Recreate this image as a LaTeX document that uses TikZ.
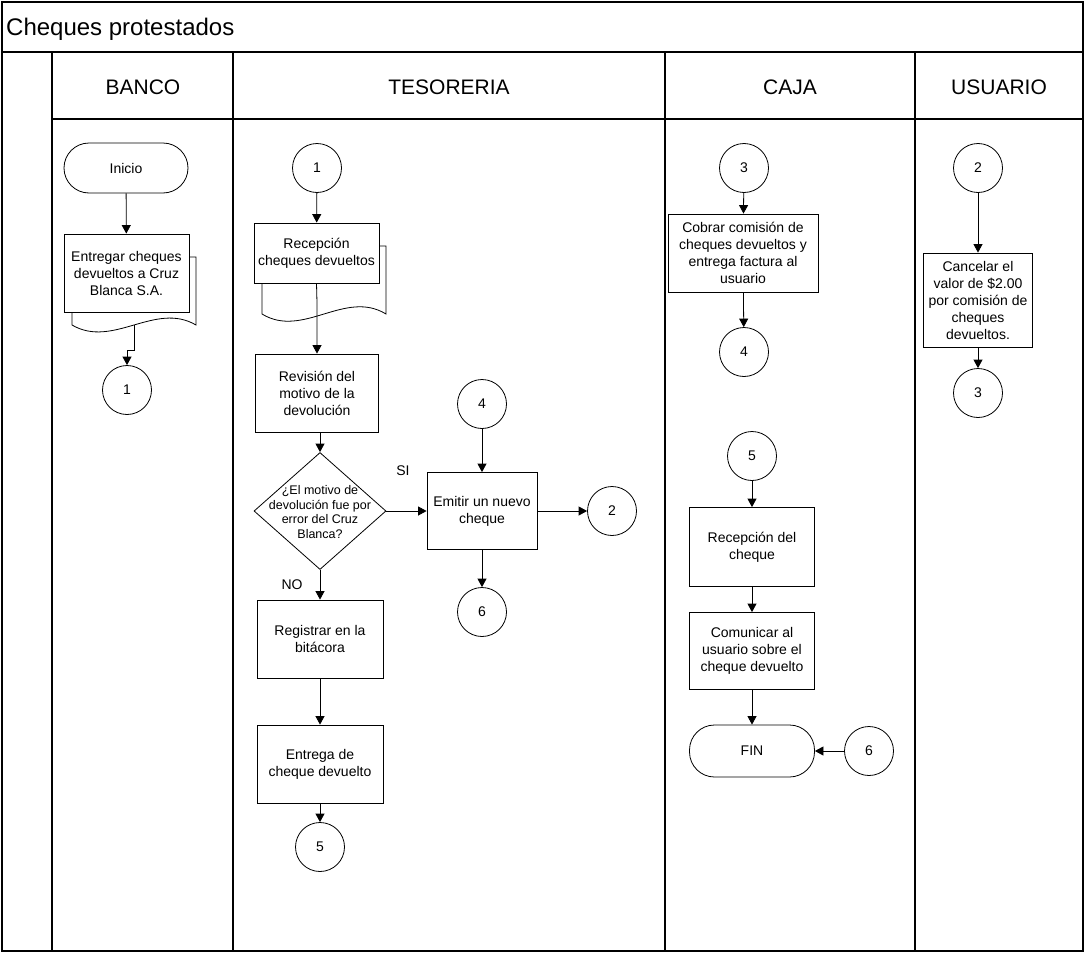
\documentclass[tikz,border=0pt]{standalone}
\usepackage{fontspec}
\setmainfont{Liberation Sans}
\usetikzlibrary{arrows.meta,shapes.geometric}

\newcommand{\bodyfont}{\fontsize{14}{17}\selectfont}
\newcommand{\decfont}{\fontsize{12.5}{14.6}\selectfont}

\tikzset{
  frame/.style={line width=1.1pt},
  proc/.style={draw, fill=white, line width=0.8pt, inner sep=0pt, align=center, font=\bodyfont},
  conn/.style={draw, fill=white, circle, line width=0.8pt, minimum size=49pt, inner sep=0pt, font=\bodyfont},
  term/.style={draw, fill=white, line width=0.8pt, rounded corners=25pt, inner sep=0pt, font=\bodyfont},
  flow/.style={draw, line width=0.8pt, -{Triangle[length=8.5pt,width=9pt]}},
  backdoc/.style={draw, fill=white, line width=0.8pt},
  lane/.style={font=\fontsize{21}{25}\selectfont, anchor=base, inner sep=0pt},
  lbl/.style={font=\bodyfont, inner sep=0pt}
}

\begin{document}
\begin{tikzpicture}[x=1pt, y=-1pt]
\useasboundingbox (0,0) rectangle (1085,953);

% swimlane frame
\draw[frame] (2,2) rectangle (1083,951);
\draw[frame] (2,52) -- (1083,52);
\draw[frame] (52,119) -- (1083,119);
\draw[frame] (52,52) -- (52,951);
\draw[frame] (233,52) -- (233,951);
\draw[frame] (665,52) -- (665,951);
\draw[frame] (915,52) -- (915,951);

\node[font=\fontsize{24}{28}\selectfont, anchor=base west, inner sep=0pt] (title) at (6,35) {Cheques protestados};
\node[lane] (hbanco) at (143,94) {BANCO};
\node[lane] (htes) at (449,94) {TESORERIA};
\node[lane] (hcaja) at (790,94) {CAJA};
\node[lane] (husu) at (999,94) {USUARIO};

% ---------- BANCO ----------
\node[term, minimum width=124pt, minimum height=50pt] (ini) at (126,168) {Inicio};
\draw[backdoc] (72,257) -- (196,257) -- (196,325)
  .. controls (155,301) and (113,349) .. (72,325) -- cycle;
\node[proc, minimum width=125pt, minimum height=78pt] (ent) at (126.5,273)
  {Entregar cheques\\devueltos a Cruz\\Blanca S.A.};
\coordinate (entw) at (134,325);
\node[conn] (b1) at (127,390) {1};

\draw[flow] (ini) -- (ent);
\draw[flow] (entw) -- (134,350) -| (b1);

% ---------- TESORERIA ----------
\node[conn] (t1) at (317,168) {1};
\draw[backdoc] (262,246) -- (386,246) -- (386,314)
  .. controls (345,289) and (303,339) .. (262,314) -- cycle;
\node[proc, minimum width=125pt, minimum height=60pt] (rec) at (316.5,253)
  {Recepción\\cheques devueltos};
\node[proc, minimum width=123pt, minimum height=78pt] (rev) at (317,393)
  {Revisión del\\motivo de la\\devolución};
\node[diamond, draw, fill=white, line width=0.8pt, minimum width=132pt, minimum height=117pt, inner sep=0pt] (dec) at (320,511) {};
\node[font=\decfont, align=center, inner sep=0pt] (dectext) at (320,512)
  {¿El motivo de\\devolución fue por\\error del Cruz\\Blanca?};
\node[proc, minimum width=110pt, minimum height=77pt] (emi) at (482,511)
  {Emitir un nuevo\\cheque};
\node[conn] (t4) at (482,404) {4};
\node[conn] (t2) at (612,511) {2};
\node[conn] (t6) at (482,612) {6};
\node[proc, minimum width=126pt, minimum height=78pt] (reg) at (320,639)
  {Registrar en la\\bitácora};
\node[proc, minimum width=126pt, minimum height=78pt] (ecd) at (320,764)
  {Entrega de\\cheque devuelto};
\node[conn] (t5) at (320,847) {5};
\node[lbl] (si) at (403,471) {SI};
\node[lbl] (no) at (292,585) {NO};

\draw[flow] (t1) -- (rec);
\draw[flow] (rec.south) -- (317,303) -- (rev.north);
\draw[flow] (rev.south -| dec.north) -- (dec.north);
\draw[flow] (dec.east) -- (emi.west);
\draw[flow] (dec.south) -- (reg.north);
\draw[flow] (t4) -- (emi);
\draw[flow] (emi) -- (t2);
\draw[flow] (emi) -- (t6);
\draw[flow] (reg) -- (ecd);
\draw[flow] (ecd) -- (t5);

% ---------- CAJA ----------
\node[conn] (c3) at (744,168) {3};
\node[proc, minimum width=150pt, minimum height=78pt] (cob) at (743,253)
  {Cobrar comisión de\\cheques devueltos y\\entrega factura al\\usuario};
\node[conn] (c4) at (744,352) {4};
\node[conn] (c5) at (752,456) {5};
\node[proc, minimum width=125pt, minimum height=79pt] (rdc) at (752,547)
  {Recepción del\\cheque};
\node[proc, minimum width=125pt, minimum height=77pt] (com) at (752,651)
  {Comunicar al\\usuario sobre el\\cheque devuelto};
\node[term, minimum width=125pt, minimum height=52pt] (fin) at (752,751) {FIN};
\node[conn] (c6) at (869,751) {6};

\draw[flow] (c3) -- (cob);
\draw[flow] (cob) -- (c4);
\draw[flow] (c5) -- (rdc);
\draw[flow] (rdc) -- (com);
\draw[flow] (com) -- (fin);
\draw[flow] (c6) -- (fin);

% ---------- USUARIO ----------
\node[conn] (u2) at (978,168) {2};
\node[proc, minimum width=109pt, minimum height=94pt] (can) at (978,300)
  {Cancelar el\\valor de \$2.00\\por comisión de\\cheques\\devueltos.};
\node[conn] (u3) at (978,393) {3};

\draw[flow] (u2) -- (can);
\draw[flow] (can) -- (u3);

\end{tikzpicture}
\end{document}
